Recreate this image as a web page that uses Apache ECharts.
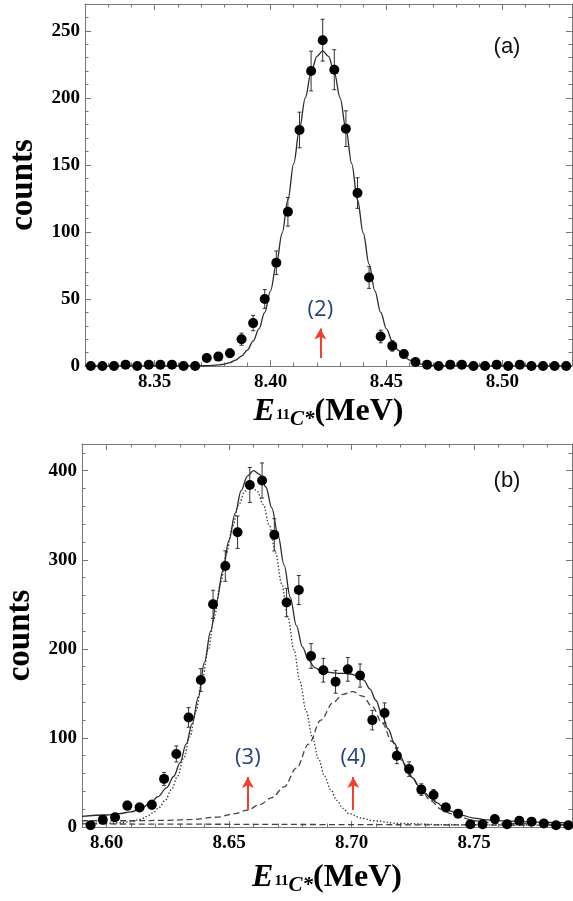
<!DOCTYPE html>
<html>
<head>
<meta charset="utf-8">
<script src="https://cdn.jsdelivr.net/npm/echarts@6/dist/echarts.min.js"></script>
<style>
  html, body { margin: 0; padding: 0; background: #fff; }
  #chart { width: 573px; height: 901px; }
</style>
</head>
<body>
<div id="chart"></div>
<script>
// ---- panel (a) : peak (2) ----
const binsA = [8.3225, 8.3275, 8.3325, 8.3375, 8.3425, 8.3475, 8.3525, 8.3575, 8.3625, 8.3675,
  8.3725, 8.3775, 8.3825, 8.3875, 8.3925, 8.3975, 8.4025, 8.4075, 8.4125, 8.4175,
  8.4225, 8.4275, 8.4325, 8.4375, 8.4425, 8.4475, 8.4525, 8.4575, 8.4625, 8.4675,
  8.4725, 8.4775, 8.4825, 8.4875, 8.4925, 8.4975, 8.5025, 8.5075, 8.5125, 8.5175,
  8.5225, 8.5275];
const countsA = [0, 0, 0, 1, 0, 1, 1, 1, 0, 0,
  6, 7, 9.5, 20, 32, 50, 77, 115, 176, 220,
  243, 221, 177, 129, 66, 22, 15, 9, 3, 1,
  0, 1, 1, 0, 0, 1, 0, 1, 0, 0,
  0, 0];
const errA = [0, 0, 0, 0, 0, 0, 0, 0, 0, 0,
  2.4, 2.6, 3.1, 4.5, 5.7, 7, 8.8, 10.7, 13.3, 14.8,
  15.6, 14.9, 13.3, 11.4, 8.1, 4.7, 3.9, 3, 1.7, 1,
  0, 0, 0, 0, 0, 0, 0, 0, 0, 0,
  0, 0];
const fitAx = [8.32, 8.3725, 8.375, 8.3775, 8.38, 8.3825, 8.385, 8.3875, 8.39, 8.3925,
  8.395, 8.3975, 8.40, 8.4025, 8.405, 8.4075, 8.41, 8.4125, 8.415, 8.4175,
  8.42, 8.4225, 8.425, 8.4275, 8.43, 8.4325, 8.435, 8.4375, 8.44, 8.4425,
  8.445, 8.4475, 8.45, 8.4525, 8.455, 8.4575, 8.46, 8.4625, 8.465, 8.4675,
  8.4725, 8.53];
const fitAy = [0, 0.2, 0.4, 0.8, 1.4, 2.5, 4.4, 7.4, 11.9, 18.5,
  27.7, 40, 56, 76, 99, 124, 151, 177, 200, 219,
  231, 235, 231, 219, 200, 177, 151, 124, 99, 76,
  56, 40, 27.7, 18.5, 11.9, 7.4, 4.4, 2.5, 1.4, 0.8,
  0.2, 0];
const xTicksA = [8.35, 8.40, 8.45, 8.50];
const yTicksA = [0, 50, 100, 150, 200, 250];
const arrowA = [8.4215, 6, 28];

// ---- panel (b) : peaks (3) and (4) ----
const binsB = [8.5935, 8.5985, 8.6035, 8.6085, 8.6135, 8.6185, 8.6235, 8.6285, 8.6335, 8.6385,
  8.6435, 8.6485, 8.6535, 8.6585, 8.6635, 8.6685, 8.6735, 8.6785, 8.6835, 8.6885,
  8.6935, 8.6985, 8.7035, 8.7085, 8.7135, 8.7185, 8.7235, 8.7285, 8.7335, 8.7385,
  8.7435, 8.7485, 8.7535, 8.7585, 8.7635, 8.7685, 8.7735, 8.7785, 8.7835, 8.7885];
const countsB = [2, 8, 11, 24, 22, 25, 54, 82, 123, 165,
  250, 293, 331, 384, 389, 328, 252, 266, 192, 176,
  163, 177, 170, 120, 128, 80, 65, 42, 36, 22,
  15, 3, 3, 9, 3, 7, 6, 4, 2, 2];
const errB = [1.4, 2.8, 3.3, 4.9, 4.7, 5, 7.3, 9, 11, 12.8,
  15.8, 17.1, 18.2, 19.6, 19.7, 18.1, 15.9, 16.3, 13.9, 13.3,
  12.8, 13.3, 13, 11, 11.3, 8.9, 8.1, 6.5, 6, 4.7,
  3.9, 1.7, 1.7, 3, 1.7, 2.6, 2.4, 2, 1.4, 1.4];
const totalX = [8.59, 8.60, 8.605, 8.61, 8.614, 8.618, 8.621, 8.6245, 8.6275, 8.63,
  8.6325, 8.635, 8.6375, 8.64, 8.6425, 8.645, 8.6475, 8.65, 8.6525, 8.655,
  8.6575, 8.66, 8.6625, 8.665, 8.6675, 8.67, 8.6725, 8.675, 8.6775, 8.68,
  8.6825, 8.685, 8.6875, 8.69, 8.6925, 8.695, 8.6975, 8.70, 8.7025, 8.705,
  8.7075, 8.71, 8.7125, 8.715, 8.7175, 8.72, 8.7225, 8.725, 8.7275, 8.73,
  8.7325, 8.735, 8.7375, 8.74, 8.745, 8.75, 8.755, 8.765, 8.775, 8.79];
const totalY = [12, 13.5, 15, 17, 20.5, 27, 34, 44, 57, 72,
  93, 116, 146, 185, 220, 254, 288, 322, 352, 378,
  394, 400, 396, 382, 358, 328, 294, 258, 226, 202,
  187, 179, 175.5, 174, 173, 172.5, 172.5, 171.5, 169.5, 165,
  155, 142, 125, 110, 94, 79, 66, 55, 46, 38,
  32, 27, 22, 18, 13, 10, 8, 6.5, 5.5, 4.5];
const peak3X = [8.59, 8.604, 8.609, 8.614, 8.6165, 8.619, 8.6215, 8.624, 8.6265, 8.629,
  8.6315, 8.634, 8.6365, 8.639, 8.6415, 8.644, 8.6465, 8.649, 8.6515, 8.654,
  8.6565, 8.659, 8.6615, 8.664, 8.6665, 8.669, 8.6715, 8.674, 8.6765, 8.679,
  8.6815, 8.684, 8.6865, 8.689, 8.6915, 8.694, 8.6965, 8.699, 8.704, 8.709,
  8.719, 8.74, 8.79];
const peak3Y = [4, 4.5, 5.7, 8.5, 12, 16, 22, 30, 42, 57,
  77, 101, 130, 163, 199, 236, 273, 308, 338, 362,
  377, 383, 377, 362, 338, 308, 273, 236, 199, 163,
  130, 101, 77, 57, 42, 30, 21, 15, 10, 7,
  4, 2.5, 2];
const peak4X = [8.59, 8.61, 8.625, 8.635, 8.645, 8.6525, 8.6575, 8.6625, 8.6675, 8.6725,
  8.6775, 8.6825, 8.6875, 8.6925, 8.6965, 8.7005, 8.7045, 8.7085, 8.7125, 8.7165,
  8.7205, 8.7245, 8.7285, 8.7325, 8.7365, 8.7405, 8.7445, 8.75, 8.76, 8.79];
const peak4Y = [7, 7, 7.5, 8.5, 11, 15, 19, 25, 33, 45,
  66, 93, 120, 140, 149, 152, 147, 135, 117, 96,
  75, 56, 41, 29, 20, 15, 11, 7, 4, 2.5];
const bgX = [8.59, 8.79];
const bgY = [3.5, 2];
const xTicksB = [8.60, 8.65, 8.70, 8.75];
const yTicksB = [0, 100, 200, 300, 400];
const arrow3 = [8.6577, 19, 56];
const arrow4 = [8.7007, 19, 56];

const SERIF = "'Liberation Serif', 'Times New Roman', serif";
const FRAME = '#777';
const zip = (xs, ys) => xs.map((x, i) => [x, ys[i]]);

const nameRich = {
  e: { fontFamily: SERIF, fontSize: 32, fontWeight: 'bold', fontStyle: 'italic', color: '#000', verticalAlign: 'bottom', padding: [0, 1, 2, 0] },
  n: { fontFamily: SERIF, fontSize: 15, fontWeight: 'bold', color: '#000', verticalAlign: 'bottom', padding: [0, 0, 7, 0] },
  c: { fontFamily: SERIF, fontSize: 21, fontWeight: 'bold', fontStyle: 'italic', color: '#000', verticalAlign: 'bottom' },
  m: { fontFamily: SERIF, fontSize: 32, fontWeight: 'bold', color: '#000', verticalAlign: 'bottom', padding: [0, 0, 2, 0] }
};

const xAxes = [];
const yAxes = [];

function addAxes(g, xr, xTicks, xGap, yr, yTicks, yMinor) {
  const lab = { fontFamily: SERIF, fontWeight: 'bold', fontSize: 19, color: '#000' };
  const base = { gridIndex: g, type: 'value', splitLine: { show: false }, axisLine: { onZero: false, lineStyle: { color: FRAME } } };
  const majorX = { show: true, inside: true, length: 6, customValues: xTicks, lineStyle: { color: FRAME } };
  const minorX = { show: true, inside: true, length: 3.5, lineStyle: { color: FRAME } };
  xAxes.push(Object.assign({}, base, {
    position: 'bottom', min: xr[0], max: xr[1], axisTick: majorX,
    axisLabel: Object.assign({ customValues: xTicks, margin: 7, formatter: v => v.toFixed(2) }, lab),
    name: '{e|E}{n|11}{c|C*}{m|(MeV)}', nameLocation: 'middle', nameGap: xGap,
    nameTextStyle: { rich: nameRich }
  }));
  xAxes.push(Object.assign({}, base, {
    position: 'bottom', min: xr[0], max: xr[1], interval: 0.01,
    axisLine: { show: false, onZero: false }, axisTick: minorX, axisLabel: { show: false }
  }));
  xAxes.push(Object.assign({}, base, {
    position: 'top', min: xr[0], max: xr[1], axisTick: majorX, axisLabel: { show: false }
  }));
  xAxes.push(Object.assign({}, base, {
    position: 'top', min: xr[0], max: xr[1], interval: 0.01,
    axisLine: { show: false, onZero: false }, axisTick: minorX, axisLabel: { show: false }
  }));

  const majorY = { show: true, inside: true, length: 6, customValues: yTicks, lineStyle: { color: FRAME } };
  const minorY = { show: true, inside: true, length: 3.5, lineStyle: { color: FRAME } };
  yAxes.push(Object.assign({}, base, {
    position: 'left', min: yr[0], max: yr[1], axisTick: majorY,
    axisLabel: Object.assign({ customValues: yTicks, margin: 5 }, lab),
    name: 'counts', nameLocation: 'middle', nameGap: 45,
    nameTextStyle: { fontFamily: SERIF, fontSize: 33, fontWeight: 'bold', color: '#000' }
  }));
  yAxes.push(Object.assign({}, base, {
    position: 'left', min: yr[0], max: yr[1], interval: yMinor,
    axisLine: { show: false, onZero: false }, axisTick: minorY, axisLabel: { show: false }
  }));
  yAxes.push(Object.assign({}, base, {
    position: 'right', min: yr[0], max: yr[1], axisTick: majorY, axisLabel: { show: false }
  }));
  yAxes.push(Object.assign({}, base, {
    position: 'right', min: yr[0], max: yr[1], interval: yMinor,
    axisLine: { show: false, onZero: false }, axisTick: minorY, axisLabel: { show: false }
  }));
}

addAxes(0, [8.32, 8.53], xTicksA, 30, [0, 270], yTicksA, 10);
addAxes(1, [8.59, 8.79], xTicksB, 35, [0, 430], yTicksB, 20);

function errorBars(ax, xs, ys, es) {
  return {
    type: 'custom', xAxisIndex: ax, yAxisIndex: ax, silent: true, z: 3,
    data: xs.map((x, i) => [x, ys[i] - es[i], ys[i] + es[i]]),
    renderItem: function (params, api) {
      if (api.value(2) - api.value(1) <= 0) return null;
      const lo = api.coord([api.value(0), api.value(1)]);
      const hi = api.coord([api.value(0), api.value(2)]);
      const st = { stroke: '#333', lineWidth: 1 };
      return {
        type: 'group', children: [
          { type: 'line', shape: { x1: lo[0], y1: lo[1], x2: hi[0], y2: hi[1] }, style: st },
          { type: 'line', shape: { x1: lo[0] - 2, y1: lo[1], x2: lo[0] + 2, y2: lo[1] }, style: st },
          { type: 'line', shape: { x1: hi[0] - 2, y1: hi[1], x2: hi[0] + 2, y2: hi[1] }, style: st }
        ]
      };
    }
  };
}

function curve(ax, xs, ys, type, color) {
  return {
    type: 'line', xAxisIndex: ax, yAxisIndex: ax, data: zip(xs, ys),
    showSymbol: false, smooth: 0.35, smoothMonotone: 'x', silent: true, z: 2,
    lineStyle: { color: color, width: 1.3, type: type }
  };
}

// red arrow with its blue tag above it
function arrowMark(a, text) {
  return [
    {
      coord: [a[0], a[1]],
      label: {
        show: true, position: 'end', formatter: text, distance: 8,
        color: '#27457a', fontSize: 22, fontFamily: "'Open Sans', 'Liberation Sans', sans-serif"
      }
    },
    { coord: [a[0], a[2]] }
  ];
}

function points(ax, xs, ys, marks) {
  return {
    type: 'scatter', xAxisIndex: ax, yAxisIndex: ax, data: zip(xs, ys),
    symbol: 'circle', symbolSize: 10, clip: false, z: 4,
    itemStyle: { color: '#000', opacity: 1 },
    markLine: {
      silent: true, animation: false,
      symbol: ['none', 'arrow'], symbolSize: [9, 11],
      lineStyle: { color: '#f2402c', width: 2, type: 'solid' },
      data: marks
    }
  };
}

const option = {
  animation: false,
  backgroundColor: '#fff',
  grid: [
    { left: 85, top: 4, right: 1, height: 362, outerBoundsMode: 'none' },
    { left: 82, top: 444, right: 1, height: 383, outerBoundsMode: 'none' }
  ],
  xAxis: xAxes,
  yAxis: yAxes,
  graphic: [
    { type: 'text', x: 507, y: 47, style: { text: '(a)', fontSize: 22, fontFamily: "'Liberation Sans', sans-serif", fill: '#111', align: 'center', verticalAlign: 'middle' } },
    { type: 'text', x: 507, y: 481, style: { text: '(b)', fontSize: 22, fontFamily: "'Liberation Sans', sans-serif", fill: '#111', align: 'center', verticalAlign: 'middle' } }
  ],
  series: [
    curve(0, fitAx, fitAy, 'solid', '#2a2a2a'),
    errorBars(0, binsA, countsA, errA),
    points(0, binsA, countsA, [arrowMark(arrowA, '(2)')]),

    curve(4, bgX, bgY, [6, 3.5], '#444'),
    curve(4, peak4X, peak4Y, [6, 3.5], '#444'),
    curve(4, peak3X, peak3Y, [1.4, 2], '#333'),
    curve(4, totalX, totalY, 'solid', '#2a2a2a'),
    errorBars(4, binsB, countsB, errB),
    points(4, binsB, countsB, [arrowMark(arrow3, '(3)'), arrowMark(arrow4, '(4)')])
  ]
};

const chart = echarts.init(document.getElementById('chart'), null, { renderer: 'canvas' });
chart.setOption(option);
window.addEventListener('resize', () => chart.resize());
</script>
</body>
</html>
